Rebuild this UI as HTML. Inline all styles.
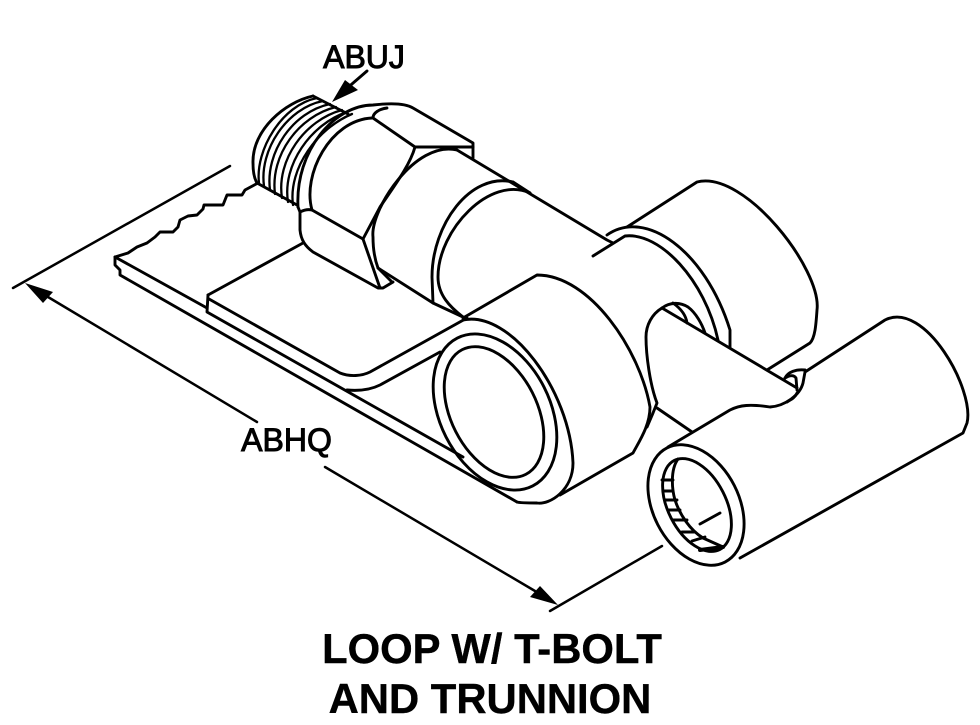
<!DOCTYPE html>
<html><head><meta charset="utf-8"><style>
html,body{margin:0;padding:0;background:#fff}
svg{display:block}
</style></head><body>
<svg width="980" height="725" viewBox="0 0 980 725" xmlns="http://www.w3.org/2000/svg">
<g fill="none" stroke="#000" stroke-width="2.9" stroke-linejoin="round" stroke-linecap="round">
<!-- dimension lines -->
<path d="M13,288 L230,166" stroke-width="2.5"/>
<path d="M48,297 L257,422" stroke-width="2.5"/>
<path d="M325,467 L535,591" stroke-width="2.5"/>
<path d="M550,611 L662,546" stroke-width="2.5"/>
<!-- ABUJ leader -->
<path d="M367,71 L345,90"/>
<!-- plate -->
<path d="M115,257 L128,253 L137,247 L147,243 L155,237 L160,232 L173,232 L178,227 L180,220 L188,216 L197,215 L203,209 L204,205 L223,205 L227,195 L242,195 L245,190 L258,183"/>
<path d="M115,257 L115,265 L120,270 L120,275 L517,502"/>
<path d="M115,257 L207,308"/>
<path d="M208,295 L207,312 L463,457"/>
<path d="M208,295 L303,243"/>
<path d="M209,299 L340,373 C350,377 362,376 370,372 L467,318"/>
<path d="M347,390 C358,391 370,390 380,385 L440,352"/>
<!-- threads -->
<path d="M313,96 C285,102 252,130 253,163 C253,172 254,178 257,183 L297,205"/>
<path d="M313,96 L348,114"/>
<g stroke-width="2.3">
<path d="M259,183 C255,150 282,105 317,98"/>
<path d="M264,186 C259,150 287,108 323,101"/>
<path d="M270,190 C265,152 293,112 330,104"/>
<path d="M275,194 C270,155 299,116 336,107"/>
<path d="M282,198 C276,160 305,120 342,110"/>
<path d="M288,202 C282,165 311,124 347,112"/>
<path d="M293,205 C288,168 318,128 352,114"/>
</g>
<!-- nut -->
<path d="M298,207 C295,150 335,105 373,105 C390,103 405,103 413,108 L473,143 L473,158"/>
<path d="M312,210 C302,175 330,120 372,118"/>
<path d="M387,108 C379,109 373,113 373,118 L415,147 L473,147"/>
<path d="M415,147 C410,165 395,185 380,207 L363,239"/>
<path d="M300,212 C304,210 308,209 312,210 L363,239 L380,288"/>
<path d="M298,207 L300,212 L300,230 C301,240 305,246 313,252 L378,288 L383,288 L393,282"/>
<path d="M457,150 C415,140 370,210 373,237 C373,250 375,260 378,268 L392,282"/>
<path d="M378,268 L433,303 L463,317"/>
<!-- barrel -->
<path d="M457,150 L607,240 L613,243"/>
<path d="M513,182 C470,172 432,225 432,277 L433,303"/>
<path d="M513,182 L530,193"/>
<path d="M530,193 C490,175 438,230 438,277 C438,295 450,307 463,317"/>
<path d="M593,256 L625,236 C660,232 705,280 718,340"/>
<path d="M607,235 C645,208 705,250 730,330 L730,347"/>
<path d="M627,227 L697,182 C745,170 822,270 817,310 C816,325 815,338 810,343 L767,370"/>
<!-- loop front -->
<path d="M463,318 L537,275 C590,275 640,350 650,407 C650,425 640,440 633,453 L560,495"/>
<path d="M463,320 C510,310 570,390 573,463 C573,490 550,505 537,503 C530,503 520,503 517,502"/>
<ellipse cx="495" cy="412" rx="55" ry="83" transform="rotate(-27 495 412)"/>
<ellipse cx="494" cy="412" rx="43" ry="70" transform="rotate(-27 494 412)"/>
<!-- tab -->
<path d="M662,308 L797,388"/>
<path d="M662,308 C652,314 646,325 646,337 C646,355 650,385 657,403 L653,413 L647,427"/>
<path d="M657,408 L692,432"/>
<path d="M662,308 C670,302 680,302 688,307 C696,313 702,324 705,333"/>
<path d="M673,303 C680,308 686,315 687,323"/>
<path d="M785,378 C788,372 796,369 805,370"/>
<path d="M785,378 C790,375 794,375 796,378 L797,390"/>
<!-- trunnion -->
<path d="M668,447 L730,410 C740,405 750,404 770,407 C785,406 800,395 803,383 L805,372 L885,320 C925,300 975,390 967,423 L963,433 L740,558"/>
<path d="M797,393 C795,398 790,400 787,402"/>
<ellipse cx="696" cy="505" rx="43" ry="64" transform="rotate(-27 696 505)"/>
<ellipse cx="697" cy="505" rx="29" ry="50" transform="rotate(-27 697 505)"/>
<path d="M678,459 C670,470 672,490 675,500 C680,515 690,530 703,538 L723,547"/>
<path d="M662,480 L673,480 M663,491 L673,491 M665,500 L677,500 M668,510 L680,510 M673,520 L687,520 M682,532 L695,532 M692,541 L705,537"/>
<path d="M700,550 L723,547" stroke-width="4"/>
<path d="M700,524 L720,513"/>
</g>
<g fill="#000" stroke="none">
<polygon points="25,283 43,303 53,292"/>
<polygon points="558,605 530,597 540,586"/>
<polygon points="332,102 345,80 358,90"/>
</g>
<g font-family="'Liberation Sans',sans-serif" fill="#000" text-anchor="middle">
<text x="364" y="68" font-size="32" stroke="#000" stroke-width="1">ABUJ</text>
<text x="286.500" y="451" font-size="32" stroke="#000" stroke-width="1">ABHQ</text>
<text x="492" y="663" font-size="41.800" font-weight="bold" stroke="#000" stroke-width="0.4">LOOP W/ T-BOLT</text>
<text x="490" y="713" font-size="41.800" font-weight="bold" stroke="#000" stroke-width="0.4">AND TRUNNION</text>
</g>
</svg>
</body></html>
